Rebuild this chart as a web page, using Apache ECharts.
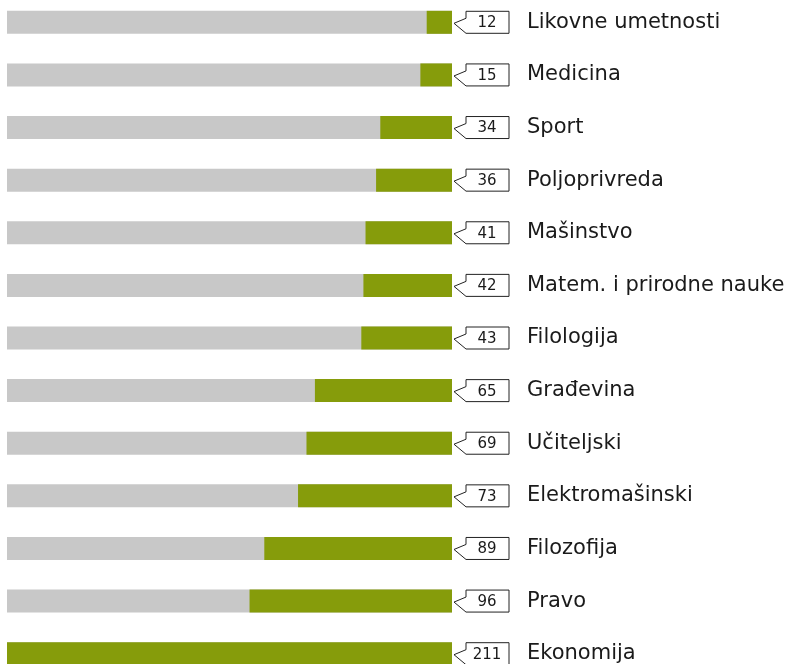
<!DOCTYPE html>
<html lang="sr">
<head>
<meta charset="UTF-8">
<title>Fakulteti</title>
<script src="https://cdn.jsdelivr.net/npm/echarts@6/dist/echarts.min.js"></script>
<style>
  html, body { margin: 0; padding: 0; background: #fff; overflow: hidden; }
  #main { width: 788px; height: 684px; margin-top: -4px; }
</style>
</head>
<body>
<div id="main"></div>
<script>
var categories = ['Likovne umetnosti', 'Medicina', 'Sport', 'Poljoprivreda', 'Mašinstvo',
    'Matem. i prirodne nauke', 'Filologija', 'Građevina', 'Učiteljski', 'Elektromašinski',
    'Filozofija', 'Pravo', 'Ekonomija'];
var values = [12, 15, 34, 36, 41, 42, 43, 65, 69, 73, 89, 96, 211];
var maxValue = 211;

var chart = echarts.init(document.getElementById('main'));

var option = {
    animation: false,
    grid: { left: 7, top: 0, width: 445, height: 684, containLabel: false },
    xAxis: {
        type: 'value', inverse: true, min: 0, max: maxValue,
        show: false
    },
    yAxis: {
        type: 'category', data: categories, inverse: true, position: 'right',
        axisLine: { show: false }, axisTick: { show: false },
        axisLabel: {
            margin: 75, color: '#1a1a1a', fontSize: 21,
            fontFamily: 'DejaVu Sans, sans-serif'
        }
    },
    series: [
        {
            // gray background
            type: 'bar',
            data: categories.map(function () { return maxValue; }),
            barWidth: 23,
            itemStyle: { color: '#c8c8c8' },
            silent: true
        },
        {
            type: 'bar',
            data: values,
            barWidth: 23,
            barGap: '-100%',
            itemStyle: { color: '#869c0b' }
        },
        {
            // callout boxes
            type: 'custom',
            data: values.map(function (v, i) { return [0, i, v]; }),
            renderItem: function (params, api) {
                var p = api.coord([0, api.value(1)]);
                var x = p[0], c = p[1];
                return {
                    type: 'group',
                    children: [
                        {
                            type: 'polygon',
                            shape: { points: [
                                [x + 2, c + 1], [x + 14, c - 4], [x + 14, c - 11],
                                [x + 57, c - 11], [x + 57, c + 11], [x + 14, c + 11]
                            ] },
                            style: { fill: '#fff', stroke: '#222', lineWidth: 1 }
                        },
                        {
                            type: 'text',
                            style: {
                                x: x + 35, y: c + 1, text: String(api.value(2)),
                                align: 'center', verticalAlign: 'middle',
                                fontSize: 15, fill: '#1a1a1a',
                                fontFamily: 'DejaVu Sans, sans-serif'
                            }
                        }
                    ]
                };
            },
            clip: false
        }
    ]
};

chart.setOption(option);
</script>
</body>
</html>
